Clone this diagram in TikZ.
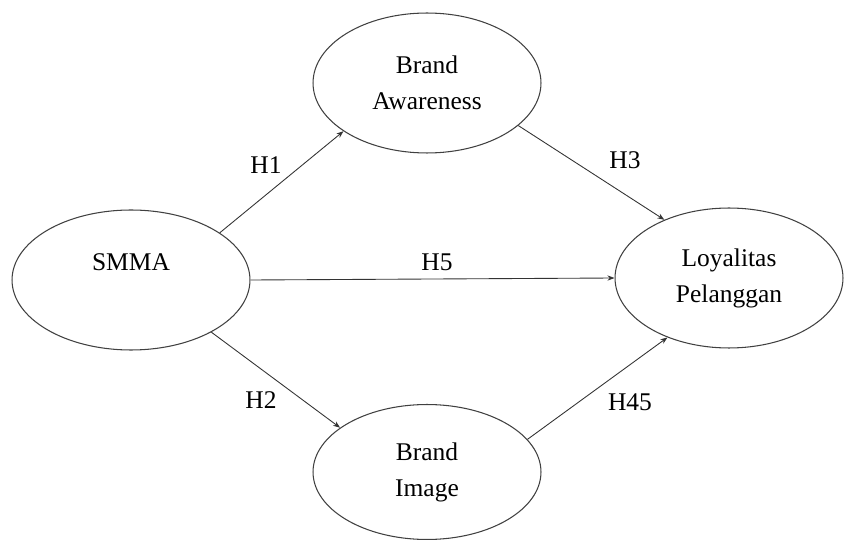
\documentclass[tikz,border=0pt]{standalone}
\usepackage{fontspec}
\setmainfont{Liberation Serif}
\usetikzlibrary{arrows.meta,shapes.geometric}

\tikzset{
  construct/.style={ellipse, draw=black!75, line width=0.6pt, minimum width=4.56cm,
    minimum height=2.8cm, inner sep=0pt, align=center,
    font=\fontsize{14.5}{20.5}\selectfont},
  link/.style={draw=black!80, line width=0.5pt, -{Stealth[length=4pt,width=3pt]}},
  hyp/.style={font=\fontsize{14.5}{17}\selectfont, inner sep=1pt}
}

\begin{document}
\begin{tikzpicture}[x=0.02cm, y=-0.02cm]
		%%%%% START %%%%%
		\useasboundingbox (0, 0) rectangle (845, 540);
		
		\node[construct] (aware) at (427, 83) {Brand\\Awareness};
		\node[construct, minimum width=4.76cm] (smma) at (131, 280) {SMMA\\\mbox{}};
		\node[construct] (loyal) at (729, 278) {Loyalitas\\Pelanggan};
		\node[construct, minimum height=2.7cm] (image) at (427, 472) {Brand\\Image};
		
		\draw[link] (smma.28) -- (aware.210.8);
		\draw[link] (smma.-33) -- (image.153);
		\draw[link] (aware.-25) -- (loyal.138);
		\draw[link] (smma.east) -- (loyal.west);
		\draw[link] (image.18) -- (loyal.224);
		
		\node[hyp] (h1) at (266, 165) {H1};
		\node[hyp] (h2) at (261, 400) {H2};
		\node[hyp] (h3) at (625, 160) {H3};
		\node[hyp] (h5) at (437, 262) {H5};
		\node[hyp] (h45) at (630, 402) {H45};
		
		%%%%% END %%%%%
\end{tikzpicture}
\end{document}
